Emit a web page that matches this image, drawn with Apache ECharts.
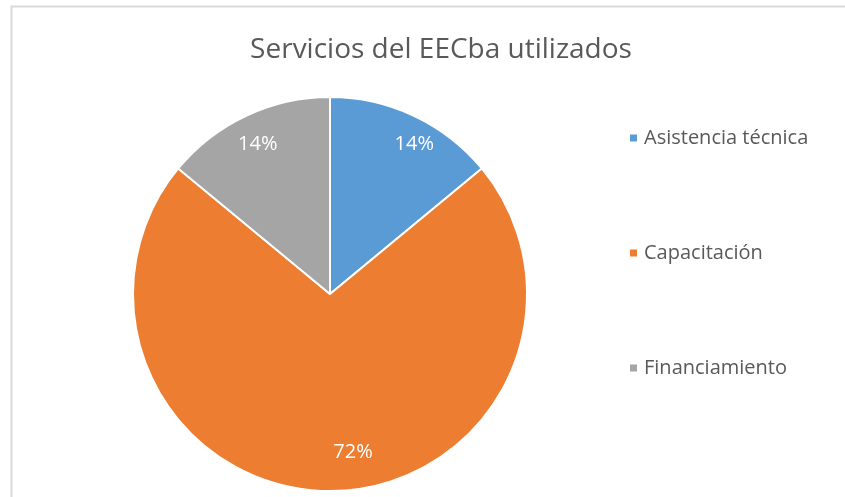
<!DOCTYPE html>
<html>
<head>
<meta charset="utf-8">
<title>Servicios del EECba utilizados</title>
<style>
  html, body { margin: 0; height: 100%; background: #fff; }
  #main { width: 845px; height: 497px; }
</style>
</head>
<body>
<div id="main"></div>
<script src="https://cdn.jsdelivr.net/npm/echarts@6/dist/echarts.min.js"></script>
<script>
  // data
  var categories = ['Asistencia técnica', 'Capacitación', 'Financiamiento'];
  var values = [14, 72, 14];
  var colors = ['#5B9BD5', '#ED7D31', '#A5A5A5'];
  // nudges so the % labels sit where Excel put them
  var labelOffsets = [[41, -58], [23, 57], [-29, -58]];

  var fontFamily = '"Open Sans", "Noto Sans", sans-serif';

  var pieData = [];
  for (var i = 0; i < categories.length; i++) {
    pieData.push({
      name: categories[i],
      value: values[i],
      itemStyle: { color: colors[i] },
      label: { offset: labelOffsets[i] }
    });
  }

  var myChart = echarts.init(document.getElementById('main'));
  var option = {
    animation: false,
    title: {
      text: 'Servicios del EECba utilizados',
      left: 436,
      textAlign: 'center',
      top: 31,
      textStyle: {
        fontFamily: fontFamily,
        fontSize: 28,
        fontWeight: 'normal',
        color: '#595959'
      }
    },
    legend: {
      orient: 'vertical',
      left: 623,
      top: 123,
      itemWidth: 9,
      itemHeight: 9,
      itemGap: 95,
      icon: 'rect',
      data: categories,
      textStyle: {
        fontFamily: fontFamily,
        fontSize: 20,
        color: '#595959',
        padding: [0, 0, 0, 1]
      }
    },
    graphic: [{
      type: 'polyline',
      shape: { points: [[11.5, 497], [11.5, 6.5], [845, 6.5]] },
      style: { stroke: '#d9d9d9', lineWidth: 2, fill: null },
      silent: true
    }],
    series: [{
      type: 'pie',
      center: [330, 294],
      radius: 197,
      startAngle: 90,
      clockwise: true,
      legendHoverLink: false,
      itemStyle: { borderColor: '#fff', borderWidth: 2 },
      label: {
        show: true,
        position: 'inside',
        formatter: '{d}%',
        color: '#fff',
        fontFamily: fontFamily,
        fontSize: 20
      },
      labelLine: { show: false },
      data: pieData
    }]
  };
  myChart.setOption(option);
</script>
</body>
</html>
